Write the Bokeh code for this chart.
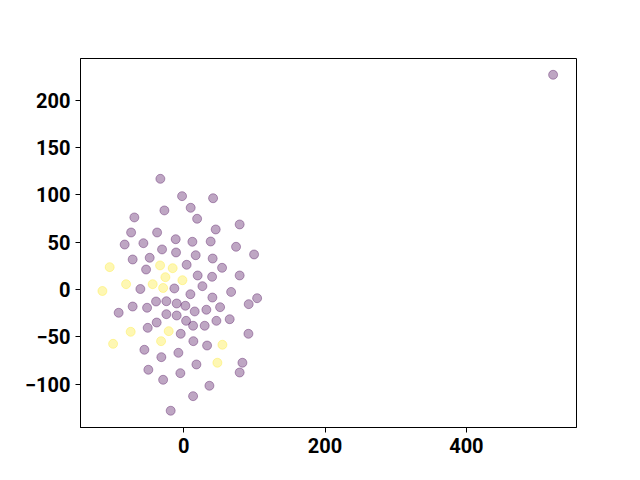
from bokeh.plotting import figure
from bokeh.models import Range1d, FixedTicker
from bokeh.embed import file_html
from bokeh.resources import INLINE

# purple points (class 0)
purple_x = [-33.0, -2.3, 41.6, 9.9, -27.3, -69.8, 19.0, 79.2, 45.3, -74.4, -37.6, -11.3, 12.3, 38.2,
            -83.5, -57.0, 74.1, 99.6, -30.6, -10.8, 17.0, 41.0, -72.2, -48.1, -53.2, 4.2, 54.3, 19.8,
            40.2, 79.2, 26.5, -61.3, -13.2, 67.1, 9.5, 40.6, 103.9, 92.0, -92.0, -72.2, -51.8, -39.1,
            -24.5, -9.9, 2.4, 15.6, 32.1, 51.5, -24.5, -9.9, 3.4, 13.3, 29.7, 46.3, 65.1, -38.2, -50.9,
            -4.2, 91.6, 13.7, 33.1, -55.6, -31.6, -7.5, 18.0, 83.1, 79.2, -50.0, -4.7, -29.1, 36.4,
            13.3, -18.4, 522.7]
purple_y = [116.9, 98.6, 96.4, 86.3, 83.5, 76.1, 74.7, 68.7, 63.4, 60.2, 60.2, 53.1, 50.4, 50.7,
            47.5, 48.9, 45.1, 37.0, 42.3, 39.1, 36.2, 32.7, 31.7, 33.5, 21.1, 26.1, 22.9, 14.8,
            13.4, 14.8, 3.5, 0.5, 1.1, -2.6, -5.0, -8.5, -9.2, -15.5, -24.6, -18.0, -19.3, -12.7,
            -12.4, -14.8, -17.2, -23.2, -21.4, -18.7, -26.1, -27.5, -33.1, -38.3, -38.3, -33.1, -31.4,
            -34.9, -40.5, -46.8, -46.8, -54.6, -59.2, -63.7, -71.5, -66.9, -79.2, -77.4, -87.7, -84.8,
            -88.4, -95.4, -101.7, -112.7, -128.1, 226.8]

# yellow points (class 1)
yellow_x = [-104.7, -33.4, -15.6, -25.9, -1.8, -81.5, -43.9, -115.0, -29.1, -75.0, -21.2, -99.9,
            -32.0, 54.8, 47.7]
yellow_y = [23.6, 25.4, 22.5, 13.0, 9.8, 5.6, 5.6, -1.6, 1.6, -44.7, -44.0, -57.4, -54.6, -58.4,
            -77.4]

x_ticks = [0, 200, 400]
y_ticks = [-100, -50, 0, 50, 100, 150, 200]

p = figure(output_backend="svg", toolbar_location=None,
           frame_width=496, frame_height=369,
           min_border_left=80, min_border_right=56, min_border_top=58, min_border_bottom=45,
           x_range=Range1d(-146, 555.8), y_range=Range1d(-145.8, 244))

p.scatter(purple_x, purple_y, size=9, fill_color="#440154", line_color="#440154",
          fill_alpha=0.35, line_alpha=0.35, line_width=1)
p.scatter(yellow_x, yellow_y, size=9, fill_color="#fde725", line_color="#fde725",
          fill_alpha=0.35, line_alpha=0.35, line_width=1)

p.xgrid.visible = False
p.ygrid.visible = False
p.outline_line_color = "black"
p.outline_line_width = 1
p.background_fill_color = "white"
p.border_fill_color = "white"

p.xaxis.ticker = FixedTicker(ticks=x_ticks)
p.yaxis.ticker = FixedTicker(ticks=y_ticks)
for ax in (p.xaxis[0], p.yaxis[0]):
    ax.major_label_text_font = "Roboto"
    ax.major_label_text_font_style = "bold"
    ax.major_label_text_font_size = "20px"
    ax.major_label_text_color = "black"
    ax.major_tick_out = 5
    ax.major_tick_in = 0
    ax.minor_tick_out = 0
    ax.minor_tick_in = 0
    ax.major_label_standoff = 5
    ax.axis_line_color = "black"
    ax.major_tick_line_color = "black"

open("out.html", "w").write(file_html(p, INLINE))
